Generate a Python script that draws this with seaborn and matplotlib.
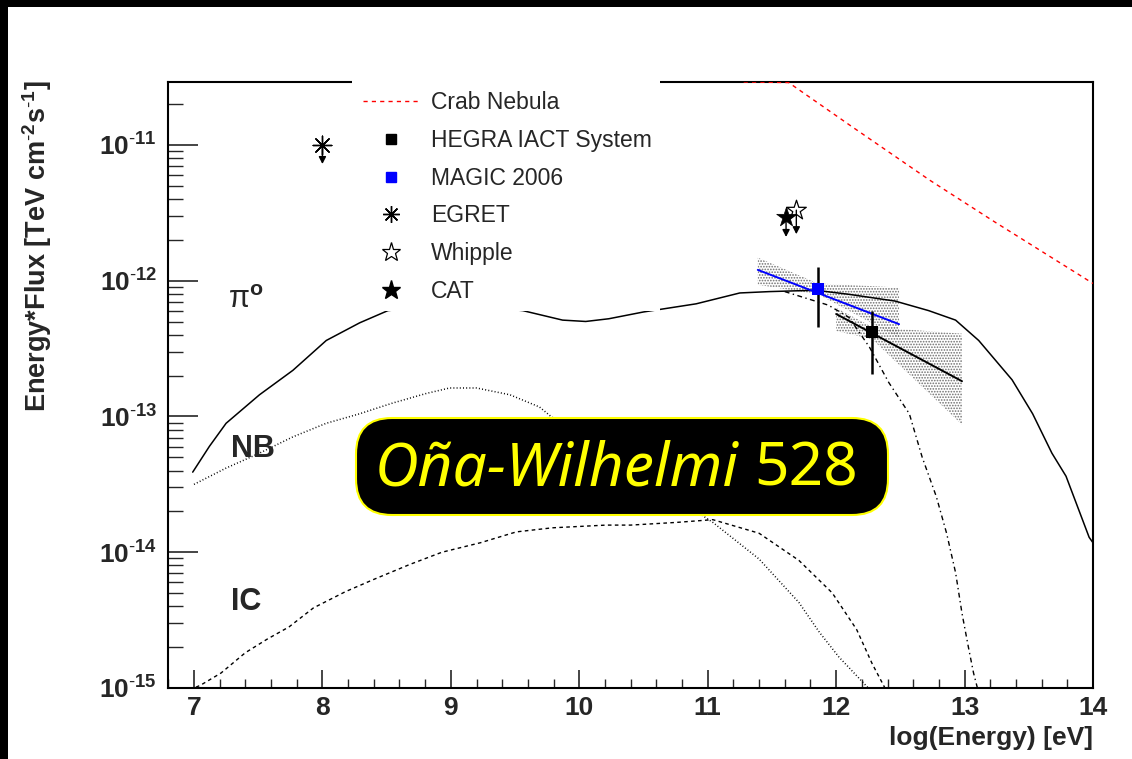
import numpy as np
import pandas as pd
import matplotlib
matplotlib.use("Agg")
import matplotlib.pyplot as plt
import matplotlib.transforms as mtrans
import seaborn as sns
from matplotlib.lines import Line2D
from matplotlib.patches import FancyBboxPatch, Rectangle
from matplotlib.offsetbox import TextArea, HPacker, AnnotationBbox

# ---------------- data (log10 E [eV], log10 E*F [TeV cm^-2 s^-1]) ----------------
pi0_logE = [6.99, 7.12, 7.25, 7.51, 7.77, 8.03, 8.29, 8.51, 9.0, 9.56, 9.87, 10.05, 10.23, 10.5,
            10.91, 11.25, 11.48, 11.84, 12.10, 12.46, 12.72, 12.93, 13.11, 13.37, 13.53, 13.68,
            13.79, 13.97, 14.0]
pi0_logF = [-13.41, -13.22, -13.05, -12.84, -12.66, -12.44, -12.31, -12.22, -12.17, -12.22, -12.29,
            -12.30, -12.28, -12.23, -12.17, -12.09, -12.08, -12.07, -12.10, -12.15, -12.22, -12.29,
            -12.44, -12.73, -12.98, -13.27, -13.44, -13.89, -13.93]

nb_logE = [7.0, 7.25, 7.51, 7.77, 8.03, 8.29, 8.55, 8.81, 8.99, 9.20, 9.46, 9.69, 9.78, 10.4,
           11.04, 11.4, 11.71, 11.87, 12.02, 12.18, 12.25]
nb_logF = [-13.50, -13.38, -13.27, -13.15, -13.05, -12.98, -12.90, -12.83, -12.79, -12.79, -12.84,
           -12.93, -13.00, -13.38, -13.78, -14.05, -14.37, -14.59, -14.77, -14.93, -15.05]

ic_logE = [6.8, 7.0, 7.05, 7.21, 7.40, 7.57, 7.74, 7.93, 8.18, 8.40, 8.68, 8.93, 9.23, 9.51, 9.79,
           10.21, 10.40, 10.76, 11.04, 11.4, 11.71, 11.97, 12.16, 12.28, 12.38]
ic_logF = [-15.3, -15.05, -14.98, -14.89, -14.74, -14.64, -14.55, -14.41, -14.29, -14.20, -14.09,
           -14.00, -13.93, -13.85, -13.82, -13.80, -13.80, -13.78, -13.76, -13.86, -14.06, -14.30,
           -14.57, -14.82, -15.0]

cut_logE = [11.6, 11.94, 12.10, 12.26, 12.41, 12.57, 12.67, 12.78, 12.86, 12.93, 12.98, 13.03,
            13.07, 13.10]
cut_logF = [-12.08, -12.18, -12.27, -12.49, -12.75, -12.98, -13.30, -13.59, -13.86, -14.15, -14.45,
            -14.70, -14.89, -15.0]

crab_logE = [11.28, 11.63, 12.10, 12.73, 13.24, 14.0]
crab_logF = [-10.30, -10.54, -10.85, -11.26, -11.57, -12.02]

magic_point = (11.86, -12.06)
magic_err = (-12.34, -11.90)
magic_fit_logE = [11.39, 12.49]
magic_fit_logF = [-11.92, -12.32]
magic_band_logE = [11.39, 11.86, 12.49]
magic_band_hi = [-11.83, -12.02, -12.05]
magic_band_lo = [-12.03, -12.10, -12.42]

hegra_point = (12.28, -12.38)
hegra_err = (-12.69, -12.22)
hegra_fit_logE = [12.0, 12.98]
hegra_fit_logF = [-12.245, -12.74]
hegra_band_logE = [12.0, 12.28, 12.98]
hegra_band_hi = [-12.20, -12.34, -12.39]
hegra_band_lo = [-12.37, -12.43, -13.06]

egret_point = (8.0, -11.0)
cat_point = (11.61, -11.53)
whipple_point = (11.69, -11.48)

x_ticks = [7, 8, 9, 10, 11, 12, 13, 14]
y_tick_exp = [-15, -14, -13, -12, -11]
legend_labels = ["Crab Nebula", "HEGRA IACT System", "MAGIC 2006", "EGRET", "Whipple", "CAT"]
curve_labels = ["NB", "IC"]
overlay_name = "Oña-Wilhelmi"
overlay_num = "528"

# ---------------- style ----------------
sns.set_theme(style="ticks")
plt.rcParams["font.family"] = ["Liberation Sans", "DejaVu Sans"]
plt.rcParams["mathtext.fontset"] = "custom"
plt.rcParams["mathtext.rm"] = "Liberation Sans"
plt.rcParams["mathtext.bf"] = "Liberation Sans:bold"
plt.rcParams["mathtext.it"] = "Liberation Sans:italic"
plt.rcParams["lines.scale_dashes"] = False
plt.rcParams["hatch.color"] = "#6e6e6e"
plt.rcParams["hatch.linewidth"] = 0.8

W, H = 1132, 759
fig = plt.figure(figsize=(W / 100, H / 100), dpi=100, facecolor="white")
ax = fig.add_axes([168.3 / W, 1 - 688 / H, (1093 - 168.3) / W, (688 - 82) / H])
ax.set_facecolor("white")
ax.set_yscale("log")
ymin, ymax = 1e-15, 10 ** -10.536
ax.set_xlim(6.8, 14.0)
ax.set_ylim(ymin, ymax)


def p(v):
    return 10 ** np.asarray(v, dtype=float)


# bands (stippled)
ax.fill_between(magic_band_logE, p(magic_band_lo), p(magic_band_hi), facecolor="none",
                edgecolor="#6e6e6e", hatch="......", linewidth=0, zorder=1)
ax.fill_between(hegra_band_logE, p(hegra_band_lo), p(hegra_band_hi), facecolor="none",
                edgecolor="#6e6e6e", hatch="......", linewidth=0, zorder=1)

# model curves
curves = [
    (pi0_logE, pi0_logF, "black", "-", 1.1),
    (nb_logE, nb_logF, "black", (0, (0.7, 1.6)), 1.1),
    (ic_logE, ic_logF, "black", (0, (2.6, 2.4)), 1.0),
    (cut_logE, cut_logF, "black", (0, (3.5, 2.5, 1.0, 2.5)), 1.0),
]
for xe, yf, col, ls, lw in curves:
    yv = np.clip(p(yf), ymin, None)
    df = pd.DataFrame({"logE": xe, "flux": yv})
    sns.lineplot(data=df, x="logE", y="flux", ax=ax, color=col, linewidth=lw,
                 estimator=None, sort=False, zorder=3)
    ax.lines[-1].set_linestyle(ls)

crab_df = pd.DataFrame({"logE": crab_logE, "flux": np.clip(p(crab_logF), None, ymax)})
sns.lineplot(data=crab_df, x="logE", y="flux", ax=ax, color="#ff0000", linewidth=1.0,
             estimator=None, sort=False, zorder=3)
ax.lines[-1].set_linestyle((0, (3, 3)))

# fits
sns.lineplot(x=magic_fit_logE, y=p(magic_fit_logF), ax=ax, color="#0000ff", linewidth=1.4,
             estimator=None, sort=False, zorder=4)
sns.lineplot(x=hegra_fit_logE, y=p(hegra_fit_logF), ax=ax, color="black", linewidth=1.4,
             estimator=None, sort=False, zorder=4)

# data points with error bars
ax.errorbar([magic_point[0]], [p(magic_point[1])],
            yerr=[[p(magic_point[1]) - p(magic_err[0])], [p(magic_err[1]) - p(magic_point[1])]],
            fmt="none", ecolor="black", elinewidth=1.8, capsize=0, zorder=5)
ax.errorbar([hegra_point[0]], [p(hegra_point[1])],
            yerr=[[p(hegra_point[1]) - p(hegra_err[0])], [p(hegra_err[1]) - p(hegra_point[1])]],
            fmt="none", ecolor="black", elinewidth=1.8, capsize=0, zorder=5)
sns.scatterplot(x=[magic_point[0]], y=[p(magic_point[1])], ax=ax, marker="s", s=85,
                color="#0000ff", edgecolor="#0000ff", linewidth=0, zorder=6)
sns.scatterplot(x=[hegra_point[0]], y=[p(hegra_point[1])], ax=ax, marker="s", s=85,
                color="black", edgecolor="black", linewidth=0, zorder=6)

# upper limits
sns.scatterplot(x=[egret_point[0]], y=[p(egret_point[1])], ax=ax, marker=(8, 2, 0), s=180,
                color="black", edgecolor="black", linewidth=1.0, zorder=6)
sns.scatterplot(x=[whipple_point[0]], y=[p(whipple_point[1])], ax=ax, marker="*", s=220,
                facecolor="white", edgecolor="black", linewidth=0.9, zorder=6)
sns.scatterplot(x=[cat_point[0]], y=[p(cat_point[1])], ax=ax, marker="*", s=220,
                color="black", edgecolor="black", linewidth=0.5, zorder=6)
for pt, drop in [(egret_point, 19), (whipple_point, 24), (cat_point, 20)]:
    tip = mtrans.offset_copy(ax.transData, fig=fig, x=0, y=-drop, units="dots")
    ax.annotate("", xy=(pt[0], p(pt[1])), xycoords=tip, xytext=(pt[0], p(pt[1])),
                textcoords="data",
                arrowprops=dict(arrowstyle="-|>,head_length=0.35,head_width=0.18",
                                color="black", lw=1.0, shrinkA=0, shrinkB=0), zorder=6)

# axes, ticks
for s in ax.spines.values():
    s.set_visible(True)
    s.set_linewidth(1.5)
    s.set_color("black")
ax.set_xticks(x_ticks)
ax.set_xticklabels([str(t) for t in x_ticks])
ax.set_xticks(np.arange(6.8, 14.001, 0.2), minor=True)
ax.set_yticks([10.0 ** e for e in y_tick_exp])
ax.set_yticklabels([r"$\mathbf{10^{\text{-}%d}}$" % (-e) for e in y_tick_exp])
ax.yaxis.set_minor_locator(matplotlib.ticker.LogLocator(base=10, subs=np.arange(2, 10), numticks=20))
ax.yaxis.set_minor_formatter(matplotlib.ticker.NullFormatter())
ax.tick_params(axis="x", which="major", direction="in", length=13, width=1.2, top=False,
               labelsize=19, pad=6)
ax.tick_params(axis="x", which="minor", direction="in", length=6.5, width=1.0, top=False)
ax.tick_params(axis="y", which="major", direction="in", length=21.6, width=1.2, right=False,
               labelsize=19, pad=8)
ax.tick_params(axis="y", which="minor", direction="in", length=10.8, width=1.0, right=False)
for lab in ax.get_xticklabels():
    lab.set_fontweight("bold")
ax.set_xlabel("")
ax.set_ylabel("")

fig.text(1093 / W, 1 - 738 / H, "log(Energy) [eV]", ha="right", va="center",
         fontsize=19, fontweight="bold")
fig.text(37 / W, 1 - 80 / H, r"Energy*Flux [TeV cm$^{\mathbf{\text{-}2}}$s$^{\mathbf{\text{-}1}}$]",
         rotation=90, ha="center", va="top", fontsize=19.5, fontweight="bold")

# curve labels
fig.text(246 / W, 1 - 300 / H, r"$\mathrm{\pi}^{\mathbf{o}}$", ha="center", va="center",
         fontsize=22)
fig.text(253 / W, 1 - 449 / H, curve_labels[0], ha="center", va="center", fontsize=22,
         fontweight="bold")
fig.text(246 / W, 1 - 602 / H, curve_labels[1], ha="center", va="center", fontsize=22,
         fontweight="bold")

# legend (white box that hides the frame and curves behind it)
ax.add_patch(Rectangle((352 / W, 1 - 311 / H), (660 - 352) / W, (311 - 75) / H,
                       transform=fig.transFigure, facecolor="white", edgecolor="none",
                       clip_on=False, zorder=10))
handles = [
    Line2D([], [], color="#ff0000", lw=1.0, linestyle=(0, (3, 3))),
    Line2D([], [], color="black", marker="s", ms=7, linestyle="none"),
    Line2D([], [], color="#0000ff", marker="s", ms=7, linestyle="none"),
    Line2D([], [], color="black", marker=(8, 2, 0), ms=12, mew=1.0, linestyle="none"),
    Line2D([], [], color="black", marker="*", ms=14, mfc="white", mew=0.9, linestyle="none"),
    Line2D([], [], color="black", marker="*", ms=14, linestyle="none"),
]
leg = ax.legend(handles, legend_labels, loc="upper left",
                bbox_to_anchor=(352 / W, 1 - 80 / H), bbox_transform=fig.transFigure,
                frameon=False, fontsize=16.5, borderpad=0.5, borderaxespad=0,
                handlelength=2.4, handletextpad=0.55, labelspacing=0.64)
leg.set_zorder(20)

# overlay caption box
box = FancyBboxPatch((356, H - 515), 532, 97, boxstyle="round,pad=0,rounding_size=36",
                     transform=mtrans.IdentityTransform(), facecolor="black",
                     edgecolor="#ffff00", linewidth=1.5, zorder=30)
fig.add_artist(box)
t1 = TextArea(overlay_name, textprops=dict(color="#ffff00", fontsize=43.5, family="Noto Sans",
                                           style="italic"))
t2 = TextArea(overlay_num, textprops=dict(color="#ffff00", fontsize=43.5, family="Noto Sans"))
pack = HPacker(children=[t1, t2], align="baseline", pad=0, sep=11)
ab = AnnotationBbox(pack, (616 / W, 1 - 470 / H), xycoords="figure fraction",
                    box_alignment=(0.5, 0.5), frameon=False, zorder=31)
fig.add_artist(ab)

# black frame strips
fig.add_artist(Rectangle((0, 1 - 7 / H), 1, 7 / H, transform=fig.transFigure,
                         facecolor="black", edgecolor="none", zorder=40))
fig.add_artist(Rectangle((0, 0), 8 / W, 1, transform=fig.transFigure,
                         facecolor="black", edgecolor="none", zorder=40))

fig.savefig("out.png", dpi=100, facecolor="white")
